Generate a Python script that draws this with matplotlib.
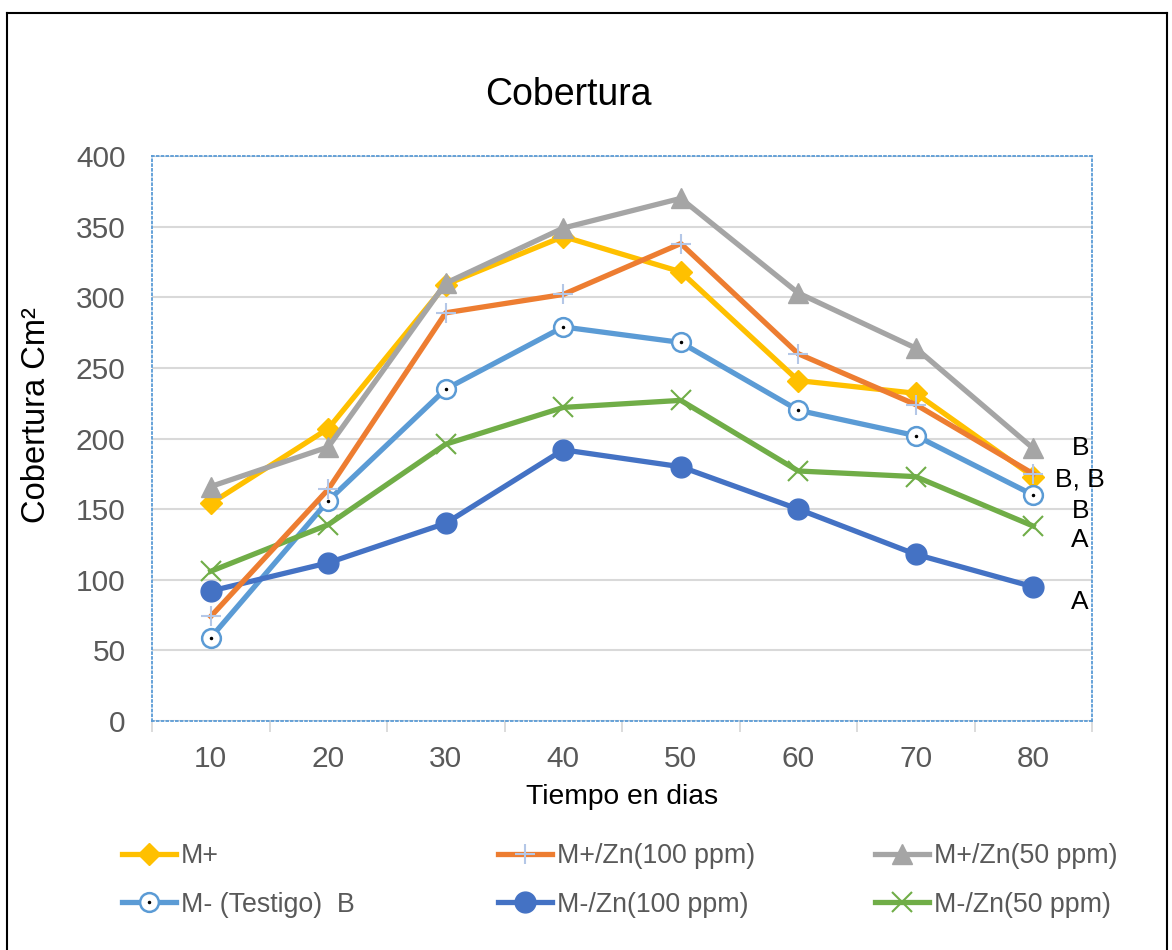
import matplotlib
matplotlib.use('Agg')
import matplotlib.pyplot as plt
from matplotlib.lines import Line2D
from matplotlib.legend_handler import HandlerTuple

plt.rcParams['font.family'] = ['Liberation Sans', 'DejaVu Sans']

dias = ['10', '20', '30', '40', '50', '60', '70', '80']

m_mas = [154, 207, 309, 343, 318, 241, 232, 173]
m_mas_zn100 = [74, 164, 289, 302, 338, 260, 224, 175]
m_mas_zn50 = [166, 194, 310, 349, 370, 303, 264, 193]
m_testigo = [59, 156, 235, 279, 268, 220, 202, 160]
m_menos_zn100 = [92, 112, 140, 192, 180, 150, 118, 95]
m_menos_zn50 = [106, 139, 196, 222, 227, 177, 173, 138]

letras = ['B', 'B, B', 'B', 'A', 'A']
letras_y = [193, 171, 149, 128, 84]

gris_txt = '#595959'
W, H = 1172, 950

fig = plt.figure(figsize=(11.72, 9.5), dpi=100)
ax = fig.add_axes([152 / W, 1 - 721 / H, 940 / W, 565 / H])

x = list(range(len(dias)))
lw = 3.8

h1, = ax.plot(x, m_mas, color='#FFC000', lw=lw, marker='D', ms=11,
              mfc='#FFC000', mec='#FFC000', zorder=3)
h2, = ax.plot(x, m_mas_zn100, color='#ED7D31', lw=lw, marker='+', ms=14,
              mew=1.5, mec='#B4C7E7', zorder=4)
h3, = ax.plot(x, m_mas_zn50, color='#A5A5A5', lw=lw, marker='^', ms=15,
              mfc='#A5A5A5', mec='#A5A5A5', zorder=3)
h4, = ax.plot(x, m_testigo, color='#5B9BD5', lw=lw, marker='o', ms=13.5,
              mfc='white', mec='#5B9BD5', mew=1.8, zorder=3)
d4, = ax.plot(x, m_testigo, ls='none', marker='.', ms=3, color='black', zorder=5)
h5, = ax.plot(x, m_menos_zn100, color='#4472C4', lw=lw, marker='o', ms=15,
              mfc='#4472C4', mec='#4472C4', zorder=3)
h6, = ax.plot(x, m_menos_zn50, color='#70AD47', lw=lw, marker='x', ms=14,
              mew=1.5, zorder=3)

for t, yv in zip(letras, letras_y):
    ax.text(7.4, yv, t, fontsize=19, ha='center', va='center', color='black')

ax.set_xlim(-0.5, 7.5)
ax.set_ylim(0, 400)
ax.set_yticks(range(0, 401, 50))
ax.set_xticks(x)
ax.set_xticklabels(dias)
ax.set_xticks([i - 0.5 for i in range(len(dias) + 1)], minor=True)
ax.tick_params(axis='x', which='major', length=0, labelsize=21.5, labelcolor=gris_txt, pad=17)
ax.tick_params(axis='x', which='minor', length=8, width=1.3, color='#D9D9D9', direction='out')
ax.tick_params(axis='y', length=0, labelsize=21.5, labelcolor=gris_txt, pad=19)
ax.grid(axis='y', color='#D9D9D9', lw=1.5)
ax.set_axisbelow(True)
for s in ax.spines.values():
    s.set_color('#5B9BD5')
    s.set_linestyle(':')
    s.set_linewidth(1.3)

fig.text(568 / W, 1 - 95 / H, 'Cobertura', fontsize=27, ha='center', va='center')
fig.text(622 / W, 1 - 797 / H, 'Tiempo en dias', fontsize=20.3, ha='center', va='center')
fig.text(37 / W, 1 - 415 / H, 'Cobertura Cm²', fontsize=23.5, ha='center', va='center',
         rotation=90)

# leyenda en tres columnas (orden por filas como en el original)
grupos = [([h1, (h4, d4)], ['M+', 'M- (Testigo)  B'], 122),
          ([h2, h5], ['M+/Zn(100 ppm)', 'M-/Zn(100 ppm)'], 498),
          ([h3, h6], ['M+/Zn(50 ppm)', 'M-/Zn(50 ppm)'], 875)]
for hs, labs, xpx in grupos:
    leg = fig.legend(hs, labs, loc='upper left', bbox_to_anchor=(xpx / W, 1 - 843 / H),
                     frameon=False, fontsize=19.3, handlelength=2.0, handletextpad=0.2,
                     labelspacing=0.85, borderpad=0, borderaxespad=0,
                     handler_map={tuple: HandlerTuple(ndivide=1)})
    for t in leg.get_texts():
        t.set_color(gris_txt)

# marco exterior
for xs, ys in [((7 / W, 7 / W), (0, 1 - 13 / H)),
               ((7 / W, 1167 / W), (1 - 13 / H, 1 - 13 / H)),
               ((1167 / W, 1167 / W), (0, 1 - 13 / H))]:
    fig.add_artist(Line2D(xs, ys, color='black', lw=1.5, transform=fig.transFigure))

fig.savefig('out.png', dpi=100)
